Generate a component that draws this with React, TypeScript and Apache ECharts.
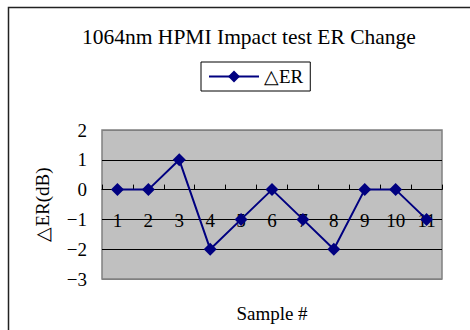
import React, { useEffect, useRef } from "react";
import * as echarts from "echarts";

const samples = ["1", "2", "3", "4", "5", "6", "7", "8", "9", "10", "11"];
const erChange = [0, 0, 1, -2, -1, 0, -1, -2, 0, 0, -1];
const yTicks = { min: -3, max: 2, interval: 1 };

const titleText = "1064nm HPMI Impact test ER Change";
const seriesName = "△ER";
const yName = "△ER(dB)";
const xName = "Sample #";

const FONT = "'Liberation Serif', 'Times New Roman', serif";

const GRID = { left: 102, top: 130, width: 340, height: 149 };
// distance from the bottom of the plot up to the zero line
const zeroOffset = (GRID.height * (0 - yTicks.min)) / (yTicks.max - yTicks.min);

export default function App() {
  const ref = useRef<HTMLDivElement>(null);

  useEffect(() => {
    if (!ref.current) return;
    const chart = echarts.init(ref.current, undefined, { renderer: "svg" });
    chart.setOption({
      animation: false,
      backgroundColor: "#ffffff",
      title: {
        text: titleText,
        left: 77,
        top: 21,
        textStyle: { fontFamily: FONT, fontSize: 21.5, fontWeight: "normal", color: "#000" },
      },
      legend: {
        data: [seriesName],
        top: 62,
        left: 201,
        padding: [5, 7, 5, 7],
        borderColor: "#000",
        borderWidth: 1,
        itemWidth: 50,
        itemHeight: 15,
        lineStyle: { width: 2 },
        textStyle: { fontFamily: FONT, fontSize: 19, color: "#000" },
      },
      graphic: [
        {
          type: "rect",
          shape: { x: 8.5, y: 7.5, width: 480, height: 340 },
          style: { fill: "none", stroke: "#222", lineWidth: 1.5 },
          silent: true,
        },
      ],
      grid: {
        ...GRID,
        outerBoundsMode: "none",
        containLabel: false,
        show: true,
        backgroundColor: "#c0c0c0",
        borderColor: "#808080",
        borderWidth: 1.5,
      },
      xAxis: [
        {
          // the axis line and ticks sitting on the zero line
          type: "category",
          data: samples,
          boundaryGap: true,
          axisLine: { onZero: true, lineStyle: { color: "#000", width: 1 } },
          axisTick: { show: true, inside: true, length: 5, interval: 0, lineStyle: { color: "#000" } },
          axisLabel: { show: false },
        },
        {
          // the sample labels, hung just below the zero line
          type: "category",
          data: samples,
          boundaryGap: true,
          position: "bottom",
          offset: -zeroOffset,
          axisLine: { show: false, onZero: false },
          axisTick: { show: false },
          axisLabel: { margin: 21, fontFamily: FONT, fontSize: 19, color: "#000", interval: 0 },
          name: xName,
          nameLocation: "middle",
          nameGap: 114,
          nameTextStyle: { fontFamily: FONT, fontSize: 19, color: "#000" },
        },
      ],
      yAxis: {
        type: "value",
        min: yTicks.min,
        max: yTicks.max,
        interval: yTicks.interval,
        axisLine: { show: false },
        axisTick: { show: false },
        axisLabel: {
          margin: 15,
          fontFamily: FONT,
          fontSize: 19,
          color: "#000",
          formatter: (v: number) => String(v).replace("-", "−"),
        },
        splitLine: {
          show: true,
          lineStyle: { color: ["#808080", "#000", "#000", "#000", "#000", "#808080"], width: 1 },
        },
        name: yName,
        nameLocation: "middle",
        nameRotate: 90,
        nameGap: 50,
        nameTextStyle: { fontFamily: FONT, fontSize: 19, color: "#000" },
      },
      series: [
        {
          name: seriesName,
          type: "line",
          xAxisIndex: 0,
          data: erChange,
          symbol: "diamond",
          symbolSize: 13,
          itemStyle: { color: "#000080" },
          lineStyle: { color: "#000080", width: 2 },
        },
      ],
    });
    return () => chart.dispose();
  }, []);

  return (
    <div
      ref={ref}
      style={{ position: "fixed", left: 0, top: 0, width: 470, height: 330 }}
    />
  );
}
